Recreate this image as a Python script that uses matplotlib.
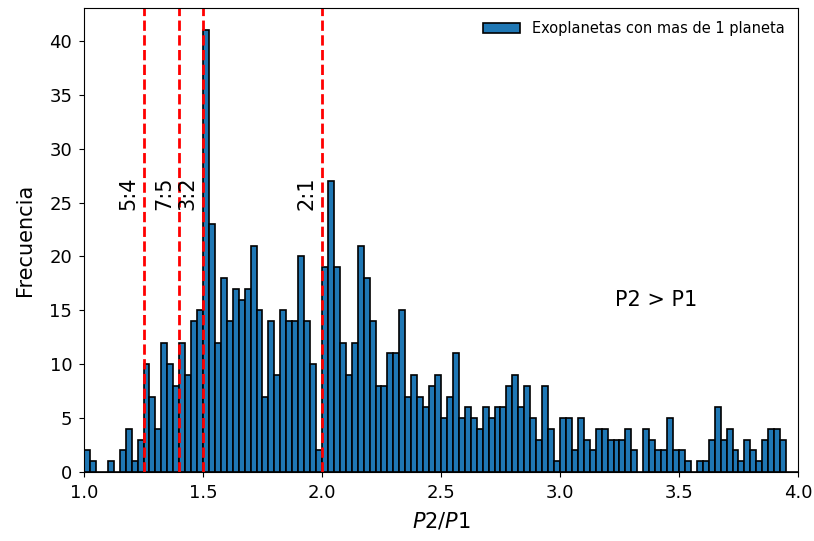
import numpy as np
import matplotlib
matplotlib.use('Agg')
import matplotlib.pyplot as plt

# histogram of period ratios P2/P1, bin width 0.025 from 1.0 to 4.0
BIN_START = 1.0
BIN_STOP = 4.0
counts = [
    2, 1, 0, 0, 1, 0, 2, 4, 1, 3,
    10, 7, 4, 12, 10, 8, 12, 9, 14, 15,
    41, 23, 12, 18, 14, 17, 16, 17, 21, 15,
    7, 14, 9, 15, 14, 14, 20, 14, 10, 2,
    19, 27, 19, 12, 9, 12, 21, 18, 14, 8,
    8, 11, 11, 15, 7, 9, 7, 6, 8, 9,
    5, 7, 11, 5, 6, 5, 4, 6, 5, 6,
    6, 8, 9, 6, 8, 5, 3, 8, 4, 1,
    5, 5, 2, 5, 3, 2, 4, 4, 3, 3,
    3, 4, 2, 0, 4, 3, 2, 2, 5, 2,
    2, 1, 0, 1, 1, 3, 6, 3, 4, 2,
    1, 3, 2, 1, 3, 4, 4, 3, 0, 0,
]
resonances = [1.25, 1.4, 1.5, 2.0]
resonance_labels = ['5:4', '7:5', '3:2', '2:1']

edges = np.linspace(BIN_START, BIN_STOP, len(counts) + 1)
centers = 0.5 * (edges[:-1] + edges[1:])

fig = plt.figure(figsize=(8.14, 5.41), dpi=100)
ax = fig.add_axes([0.1032, 0.1275, 0.8771, 0.8577])

ax.hist(centers, bins=edges, weights=counts, color='#1f77b4',
        edgecolor='black', linewidth=1.2,
        label='Exoplanetas con mas de 1 planeta')

for r, lab in zip(resonances, resonance_labels):
    ax.axvline(r, color='red', linestyle='--', linewidth=2)
    ax.text(r - 0.064, 24.3, lab, rotation=90, fontsize=15,
            ha='center', va='bottom')

ax.text(3.23, 15.4, 'P2 > P1', fontsize=15)

ax.set_xlim(1.0, 4.0)
ax.set_ylim(0, 43.05)
ax.set_xlabel('$P2/P1$', fontsize=15, labelpad=6)
ax.set_ylabel('Frecuencia', fontsize=15, labelpad=10)
ax.tick_params(labelsize=13, pad=5)
ax.legend(loc='upper right', fontsize=10.5, frameon=False,
          handlelength=2.6)

fig.savefig('out.png', dpi=100)
